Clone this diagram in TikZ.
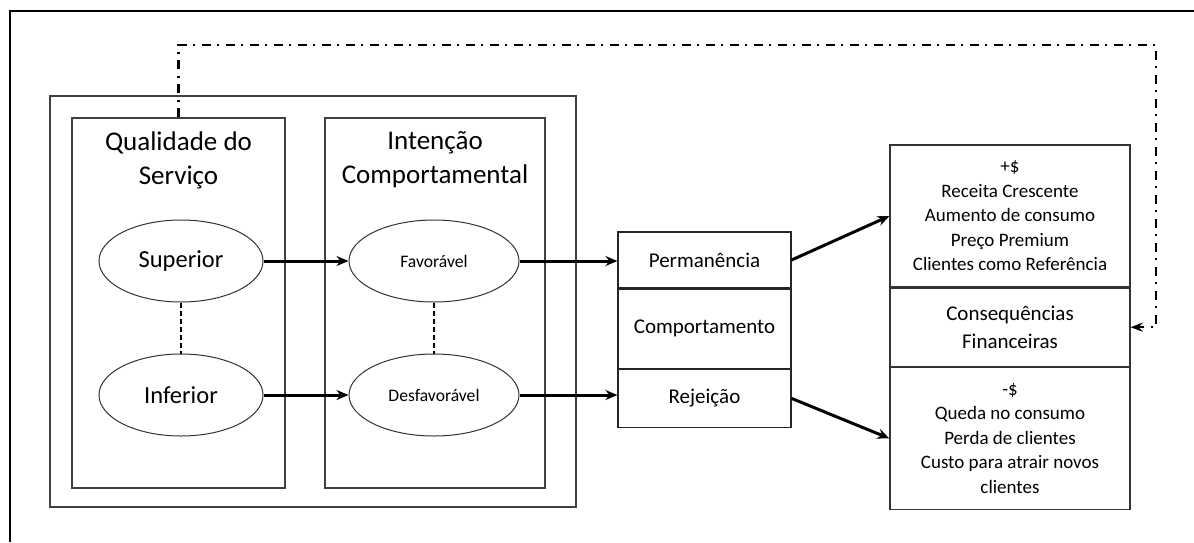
\documentclass[tikz,border=0pt]{standalone}
\usepackage{fontspec}
\setmainfont{Carlito}
\usetikzlibrary{arrows.meta,positioning,shapes.geometric}

\begin{document}
\begin{tikzpicture}[x=1pt,y=-1pt,>={Stealth[length=12pt,width=10pt]}]
  \tikzstyle{caixa}=[draw=black!75,line width=1.2pt,inner sep=0pt]
  \tikzstyle{bloco}=[draw=black!85,line width=1.2pt,inner sep=0pt,align=center,minimum width=173pt]
  \tikzstyle{lista}=[draw=black!80,line width=1.2pt,inner sep=0pt,align=center,minimum width=240pt]
  \tikzstyle{elipse}=[ellipse,draw=black!80,line width=1pt,inner sep=0pt,minimum height=82pt]
  \tikzstyle{titulo}=[align=center,font=\fontsize{27}{34}\selectfont]
  \tikzstyle{seta}=[->,line width=3pt]
  \tikzstyle{ligacao}=[line width=2.2pt,dash pattern=on 5pt off 3pt]
  \tikzstyle{retorno}=[->,>={Stealth[length=12pt,width=9pt]},line width=2.2pt,dash pattern=on 9pt off 6pt on 2pt off 7pt]

  \useasboundingbox (0,0) rectangle (1194,542);
  \draw[line width=1.5pt] (1194,11) -- (10,11) -- (10,542);

  \node[caixa,minimum width=526pt,minimum height=411pt] (grupo) at (313,301.5) {};
  \node[caixa,minimum width=213pt,minimum height=370pt] (qual) at (178.5,303) {};
  \node[caixa,minimum width=220pt,minimum height=370pt] (intencao) at (435,303) {};
  \node[titulo] (tqual) at (qual.north |- 0,160) {Qualidade do\\Serviço};
  \node[titulo] (tint) at (intencao.north |- 0,160) {Intenção\\Comportamental};

  \node[elipse,minimum width=164pt,font=\fontsize{24.5}{28}\selectfont] (sup) at (181,261) {Superior};
  \node[elipse,minimum width=164pt,font=\fontsize{24.5}{28}\selectfont] (inf) at (181,395) {Inferior};
  \node[elipse,minimum width=170pt,font=\fontsize{17.6}{21}\selectfont] (fav) at (434,261) {Favorável};
  \node[elipse,minimum width=170pt,font=\fontsize{17.6}{21}\selectfont] (desf) at (434,395) {Desfavorável};

  \node[bloco,minimum height=56pt,font=\fontsize{21}{26}\selectfont] (perm) at (704.5,260) {Permanência};
  \node[bloco,minimum height=79pt,font=\fontsize{21}{26}\selectfont] (comp) [below=0pt of perm] {Comportamento};
  \node[bloco,minimum height=58pt,font=\fontsize{21}{26}\selectfont] (rej) [below=0pt of comp] {Rejeição};

  \node[lista,minimum height=142pt,font=\fontsize{19}{24.5}\selectfont] (ganho) at (1010,216)
    {+\$\\Receita Crescente\\Aumento de consumo\\Preço Premium\\Clientes como Referência};
  \node[lista,minimum height=78pt,font=\fontsize{21}{28}\selectfont] (cons) [below=0pt of ganho]
    {Consequências\\Financeiras};
  \node[lista,minimum height=142pt,font=\fontsize{19}{24.5}\selectfont] (perda) [below=0pt of cons]
    {-\$\\Queda no consumo\\Perda de clientes\\Custo para atrair novos\\clientes};

  \coordinate (canto) at (1156,45);

  \draw[seta] (sup.east) -- (fav.west);
  \draw[seta] (inf.east) -- (desf.west);
  \draw[seta] (fav.east) -- (fav.east -| perm.west);
  \draw[seta] (desf.east) -- (desf.east -| rej.west);
  \draw[seta] (perm.east) -- (ganho.west);
  \draw[seta] (rej.east) -- (perda.west);
  \draw[ligacao] (sup.south) -- (inf.north);
  \draw[ligacao] (fav.south) -- (desf.north);
  \draw[retorno] (qual.north) |- (canto) |- (cons.east);
\end{tikzpicture}
\end{document}
